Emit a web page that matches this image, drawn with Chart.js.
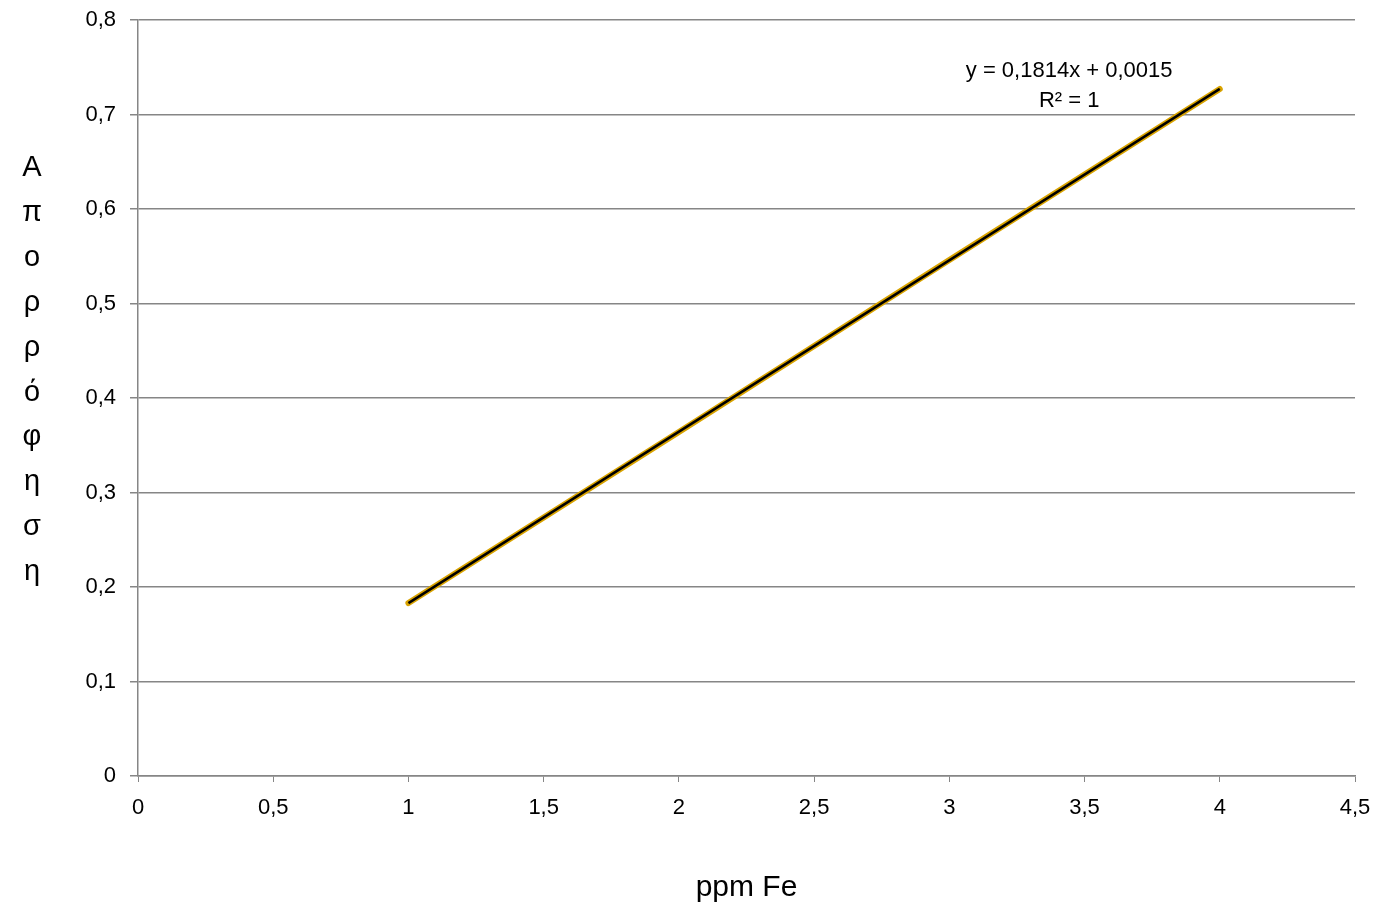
<!DOCTYPE html>
<html lang="el">
<head>
    <meta charset="UTF-8">
    <title>ppm Fe - Απορρόφηση</title>
    <script src="https://cdn.jsdelivr.net/npm/chart.js"></script>
    <style>
        body {
            margin: 0;
            padding: 0;
            background: #ffffff;
        }
        .wrap {
            width: 1385px;
            height: 912px;
            position: relative;
        }
    </style>
</head>
<body>
    <div class="wrap">
        <canvas id="calibChart"></canvas>
    </div>

    <script>
        // Data
        const ppmFe = [1, 2, 3, 4];
        const absorbance = [0.183, 0.364, 0.546, 0.727];

        // Linear trendline end points
        const trendX = [1, 4];
        const trendY = [0.1829, 0.7271];

        const xTicks = [0, 0.5, 1, 1.5, 2, 2.5, 3, 3.5, 4, 4.5];
        const yTicks = [0, 0.1, 0.2, 0.3, 0.4, 0.5, 0.6, 0.7, 0.8];

        const yTitle = 'Απορρόφηση';
        const xTitle = 'ppm Fe';
        const equationLines = ['y = 0,1814x + 0,0015', 'R² = 1'];

        const axisGray = '#868686';
        const fontFamily = "'Liberation Sans', Arial, sans-serif";

        const fmt = v => Number.isInteger(v) ? String(v) : v.toFixed(1).replace('.', ',');

        // vertical stacked y title + trendline label
        const textPlugin = {
            id: 'textPlugin',
            afterDraw(chart) {
                const ctx = chart.ctx;
                ctx.save();
                ctx.fillStyle = '#000';
                ctx.textAlign = 'center';
                ctx.textBaseline = 'middle';

                ctx.font = '29px ' + fontFamily;
                const letters = Array.from(yTitle);
                const step = 44.9;
                const startY = 168;
                letters.forEach((ch, i) => {
                    ctx.fillText(ch, 32, startY + i * step);
                });

                ctx.font = '22px ' + fontFamily;
                const xs = chart.scales.x;
                const ys = chart.scales.y;
                const cx = xs.getPixelForValue(3.443);
                ctx.fillText(equationLines[0], cx, ys.getPixelForValue(0.7465));
                ctx.fillText(equationLines[1], cx, ys.getPixelForValue(0.7145));
                ctx.restore();
            }
        };

        const ctx = document.getElementById('calibChart').getContext('2d');
        new Chart(ctx, {
            type: 'scatter',
            data: {
                datasets: [
                    {
                        label: 'Trendline',
                        data: trendX.map((x, i) => ({ x: x, y: trendY[i] })),
                        showLine: true,
                        borderColor: '#000000',
                        borderWidth: 2.5,
                        pointRadius: 0,
                        order: 0
                    },
                    {
                        label: 'Απορρόφηση',
                        data: ppmFe.map((x, i) => ({ x: x, y: absorbance[i] })),
                        showLine: true,
                        borderColor: '#D9A300',
                        borderWidth: 6,
                        borderCapStyle: 'round',
                        pointRadius: 0,
                        order: 1
                    }
                ]
            },
            options: {
                responsive: true,
                maintainAspectRatio: false,
                animation: false,
                layout: {
                    padding: { top: 20, right: 30, left: 0, bottom: 0 }
                },
                plugins: {
                    legend: { display: false },
                    tooltip: { enabled: false }
                },
                scales: {
                    x: {
                        type: 'linear',
                        min: 0,
                        max: 4.5,
                        afterBuildTicks: scale => {
                            scale.ticks = xTicks.map(v => ({ value: v }));
                        },
                        afterFit: scale => {
                            scale.height = 136;
                            scale.paddingLeft = 0;
                            scale.paddingRight = 0;
                        },
                        ticks: {
                            color: '#000',
                            font: { family: fontFamily, size: 22 },
                            padding: 13,
                            maxRotation: 0,
                            callback: v => fmt(v)
                        },
                        grid: {
                            drawOnChartArea: false,
                            drawTicks: true,
                            tickLength: 6,
                            tickColor: axisGray
                        },
                        border: { display: true, color: axisGray, width: 1.5 },
                        title: {
                            display: true,
                            text: xTitle,
                            color: '#000',
                            font: { family: fontFamily, size: 30 },
                            padding: { top: 0, bottom: 6 }
                        }
                    },
                    y: {
                        type: 'linear',
                        min: 0,
                        max: 0.8,
                        afterBuildTicks: scale => {
                            scale.ticks = yTicks.map(v => ({ value: v }));
                        },
                        afterFit: scale => {
                            scale.width = 138;
                            scale.paddingTop = 0;
                            scale.paddingBottom = 0;
                        },
                        ticks: {
                            color: '#000',
                            font: { family: fontFamily, size: 22 },
                            padding: 14,
                            callback: v => fmt(v)
                        },
                        grid: {
                            color: axisGray,
                            lineWidth: 1.5,
                            drawTicks: true,
                            tickLength: 8,
                            tickColor: axisGray
                        },
                        border: { display: true, color: axisGray, width: 1.5 }
                    }
                }
            },
            plugins: [textPlugin]
        });
    </script>
</body>
</html>
